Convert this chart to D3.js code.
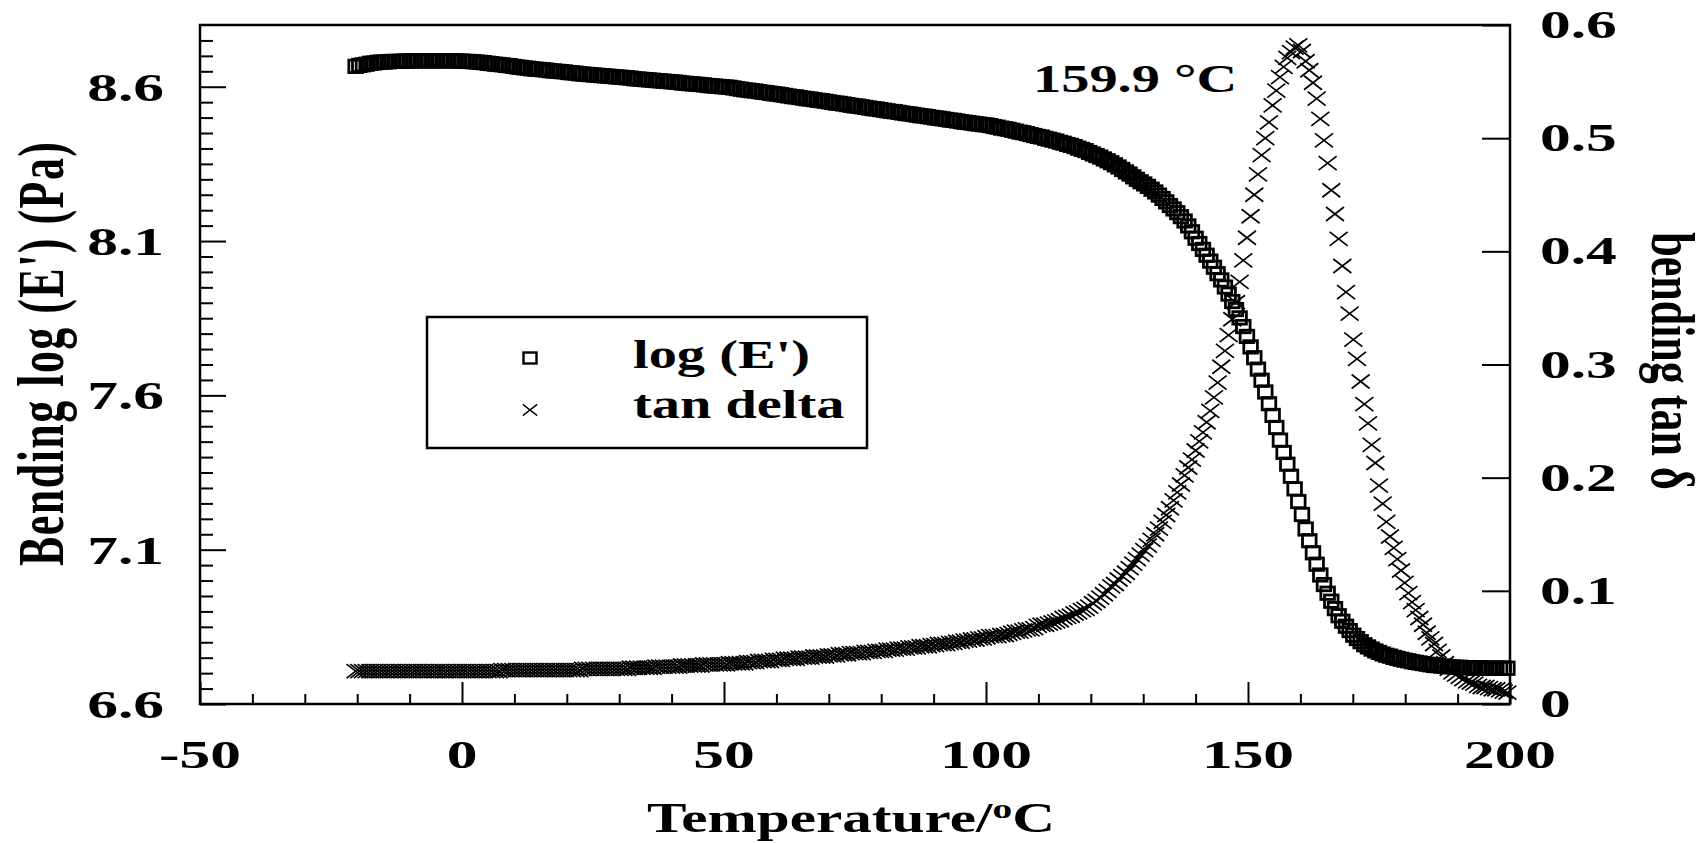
<!DOCTYPE html>
<html>
<head>
<meta charset="utf-8">
<script src="https://cdn.jsdelivr.net/npm/d3@7"></script>
<style>
  body { margin: 0; background: #fff; }
  svg text { font-family: "Liberation Serif", "Times New Roman", serif; font-weight: bold; fill: #000; }
</style>
</head>
<body>
<svg id="chart"></svg>
<script>
// temperature (°C) of each reading
const temps = [
  -20.3,-19.6,-18.9,-18.2,-17.5,-16.8,-16.1,-15.4,-14.7,-14.0,
  -13.3,-12.6,-11.9,-11.2,-10.5,-9.8,-9.1,-8.4,-7.7,-7.0,
  -6.3,-5.6,-4.9,-4.2,-3.5,-2.8,-2.1,-1.4,-0.7,0.0,
  0.7,1.4,2.1,2.8,3.5,4.2,4.9,5.6,6.3,7.0,
  7.7,8.4,9.1,9.8,10.5,11.2,11.9,12.6,13.3,14.0,
  14.7,15.4,16.1,16.8,17.5,18.2,18.9,19.6,20.3,21.0,
  21.7,22.4,23.1,23.8,24.5,25.2,25.9,26.6,27.3,28.0,
  28.7,29.4,30.1,30.8,31.5,32.2,32.9,33.6,34.3,35.0,
  35.7,36.4,37.1,37.8,38.5,39.2,39.9,40.6,41.3,42.0,
  42.7,43.4,44.1,44.8,45.5,46.2,46.9,47.6,48.3,49.0,
  49.7,50.4,51.1,51.8,52.5,53.2,53.9,54.6,55.3,56.0,
  56.7,57.4,58.1,58.8,59.5,60.2,60.9,61.6,62.3,63.0,
  63.7,64.4,65.1,65.8,66.5,67.2,67.9,68.6,69.3,70.0,
  70.7,71.4,72.1,72.8,73.5,74.2,74.9,75.6,76.3,77.0,
  77.7,78.4,79.1,79.8,80.5,81.2,81.9,82.6,83.3,84.0,
  84.7,85.4,86.1,86.8,87.5,88.2,88.9,89.6,90.3,91.0,
  91.7,92.4,93.1,93.8,94.5,95.2,95.9,96.6,97.3,98.0,
  98.7,99.4,100.1,100.8,101.5,102.2,102.9,103.6,104.3,105.0,
  105.7,106.4,107.1,107.8,108.5,109.2,109.9,110.6,111.3,112.0,
  112.7,113.4,114.1,114.8,115.5,116.2,116.9,117.6,118.3,119.0,
  119.7,120.4,121.1,121.8,122.5,123.2,123.9,124.6,125.3,126.0,
  126.7,127.4,128.1,128.8,129.5,130.2,130.9,131.6,132.3,133.0,
  133.7,134.4,135.1,135.8,136.5,137.2,137.9,138.6,139.3,140.0,
  140.7,141.4,142.1,142.8,143.5,144.2,144.9,145.6,146.3,147.0,
  147.7,148.4,149.1,149.8,150.5,151.2,151.9,152.6,153.3,154.0,
  154.7,155.4,156.1,156.8,157.5,158.2,158.9,159.6,160.3,161.0,
  161.7,162.4,163.1,163.8,164.5,165.2,165.9,166.6,167.3,168.0,
  168.7,169.4,170.1,170.8,171.5,172.2,172.9,173.6,174.3,175.0,
  175.7,176.4,177.1,177.8,178.5,179.2,179.9,180.6,181.3,182.0,
  182.7,183.4,184.1,184.8,185.5,186.2,186.9,187.6,188.3,189.0,
  189.7,190.4,191.1,191.8,192.5,193.2,193.9,194.6,195.3,196.0,
  196.7,197.4,198.1,198.8,199.5
];

// bending log(E') (Pa)
const logE = [
  8.666,8.669,8.671,8.673,8.676,8.677,8.679,8.680,8.680,8.681,
  8.682,8.682,8.682,8.683,8.683,8.684,8.684,8.684,8.684,8.684,
  8.684,8.684,8.684,8.684,8.684,8.684,8.684,8.684,8.683,8.683,
  8.682,8.682,8.681,8.680,8.679,8.678,8.676,8.675,8.673,8.672,
  8.671,8.669,8.668,8.666,8.664,8.663,8.661,8.660,8.658,8.657,
  8.656,8.655,8.654,8.652,8.651,8.650,8.649,8.648,8.646,8.645,
  8.644,8.642,8.641,8.640,8.639,8.638,8.637,8.636,8.635,8.634,
  8.633,8.632,8.631,8.630,8.629,8.628,8.626,8.625,8.624,8.623,
  8.622,8.621,8.620,8.619,8.618,8.617,8.616,8.615,8.614,8.612,
  8.611,8.610,8.609,8.608,8.607,8.606,8.604,8.603,8.602,8.601,
  8.600,8.599,8.598,8.596,8.594,8.592,8.590,8.589,8.587,8.586,
  8.584,8.582,8.581,8.579,8.577,8.576,8.574,8.572,8.570,8.568,
  8.567,8.565,8.563,8.561,8.560,8.558,8.556,8.555,8.553,8.551,
  8.549,8.547,8.546,8.544,8.542,8.540,8.538,8.537,8.535,8.533,
  8.531,8.529,8.528,8.526,8.524,8.522,8.520,8.519,8.517,8.515,
  8.513,8.512,8.510,8.508,8.506,8.505,8.503,8.501,8.499,8.498,
  8.496,8.494,8.492,8.491,8.489,8.487,8.485,8.484,8.482,8.480,
  8.479,8.477,8.476,8.474,8.471,8.469,8.466,8.464,8.462,8.459,
  8.456,8.453,8.451,8.448,8.445,8.442,8.439,8.437,8.433,8.430,
  8.427,8.424,8.420,8.417,8.413,8.410,8.406,8.401,8.397,8.393,
  8.387,8.382,8.377,8.372,8.366,8.360,8.354,8.347,8.340,8.332,
  8.324,8.317,8.308,8.300,8.292,8.285,8.277,8.268,8.259,8.249,
  8.238,8.227,8.215,8.204,8.192,8.179,8.165,8.149,8.130,8.109,
  8.092,8.073,8.054,8.035,8.015,7.994,7.974,7.951,7.928,7.904,
  7.878,7.851,7.823,7.791,7.757,7.722,7.685,7.649,7.611,7.573,
  7.535,7.496,7.455,7.415,7.377,7.338,7.297,7.256,7.214,7.167,
  7.129,7.090,7.053,7.018,6.987,6.959,6.933,6.909,6.886,6.868,
  6.852,6.838,6.823,6.812,6.802,6.792,6.785,6.778,6.772,6.767,
  6.762,6.758,6.755,6.751,6.748,6.745,6.742,6.740,6.737,6.735,
  6.733,6.731,6.729,6.727,6.725,6.724,6.723,6.722,6.721,6.720,
  6.719,6.719,6.718,6.718,6.717,6.717,6.717,6.717,6.716,6.716,
  6.716,6.716,6.716,6.716,6.716
];

// bending tan delta
const tanDelta = [
  0.029,0.029,0.029,0.029,0.029,0.029,0.029,0.029,0.029,0.029,
  0.029,0.029,0.029,0.029,0.029,0.029,0.029,0.029,0.029,0.029,
  0.029,0.029,0.029,0.029,0.029,0.029,0.029,0.029,0.029,0.029,
  0.029,0.029,0.029,0.029,0.029,0.029,0.029,0.029,0.029,0.029,
  0.030,0.030,0.030,0.030,0.030,0.030,0.030,0.030,0.030,0.030,
  0.030,0.030,0.030,0.030,0.030,0.030,0.030,0.030,0.030,0.030,
  0.030,0.030,0.031,0.031,0.031,0.031,0.031,0.031,0.031,0.031,
  0.031,0.031,0.031,0.031,0.031,0.032,0.032,0.032,0.032,0.032,
  0.032,0.032,0.033,0.033,0.033,0.033,0.033,0.033,0.033,0.034,
  0.034,0.034,0.034,0.034,0.034,0.035,0.035,0.035,0.035,0.035,
  0.035,0.035,0.036,0.036,0.036,0.036,0.036,0.037,0.037,0.037,
  0.038,0.038,0.038,0.038,0.039,0.039,0.039,0.040,0.040,0.040,
  0.040,0.041,0.041,0.041,0.041,0.042,0.042,0.042,0.042,0.043,
  0.043,0.043,0.044,0.044,0.044,0.045,0.045,0.045,0.045,0.046,
  0.046,0.046,0.047,0.047,0.047,0.048,0.048,0.048,0.049,0.049,
  0.049,0.050,0.050,0.050,0.051,0.051,0.051,0.052,0.052,0.053,
  0.053,0.053,0.054,0.054,0.055,0.055,0.056,0.056,0.057,0.057,
  0.058,0.058,0.059,0.060,0.060,0.060,0.061,0.061,0.062,0.063,
  0.064,0.064,0.065,0.066,0.066,0.067,0.069,0.070,0.070,0.071,
  0.072,0.073,0.074,0.076,0.077,0.078,0.080,0.081,0.083,0.084,
  0.086,0.089,0.091,0.094,0.097,0.100,0.104,0.106,0.110,0.113,
  0.116,0.120,0.124,0.128,0.132,0.136,0.140,0.145,0.150,0.155,
  0.161,0.167,0.173,0.180,0.187,0.194,0.202,0.209,0.216,0.224,
  0.232,0.240,0.249,0.259,0.271,0.284,0.298,0.312,0.326,0.340,
  0.355,0.373,0.392,0.412,0.431,0.450,0.468,0.485,0.500,0.514,
  0.529,0.542,0.554,0.563,0.571,0.576,0.580,0.582,0.577,0.568,
  0.560,0.549,0.535,0.517,0.498,0.478,0.454,0.433,0.411,0.387,
  0.364,0.345,0.322,0.305,0.285,0.265,0.248,0.229,0.213,0.193,
  0.177,0.161,0.148,0.138,0.128,0.118,0.107,0.098,0.090,0.083,
  0.076,0.070,0.063,0.058,0.053,0.047,0.042,0.036,0.031,0.028,
  0.026,0.024,0.022,0.020,0.019,0.018,0.016,0.015,0.015,0.014,
  0.013,0.013,0.012,0.011,0.010
];

const xTicks = [-50, 0, 50, 100, 150, 200];
const leftTicks = [6.6, 7.1, 7.6, 8.1, 8.6];
const rightTicks = [0, 0.1, 0.2, 0.3, 0.4, 0.5, 0.6];
const seriesNames = ["log (E')", "tan delta"];
const peakText = "159.9 \u00b0C";

const width = 1708, height = 843;
const SX = 1.41; // the original lettering is stretched sideways

const svg = d3.select("#chart")
  .attr("width", width)
  .attr("height", height)
  .attr("viewBox", `0 0 ${width} ${height}`);

svg.append("rect").attr("width", width).attr("height", height).attr("fill", "#fff");

let x = d3.scaleLinear().domain([-50, 200]).range([200, 1510]);
let yL = d3.scaleLinear().domain([6.6, 8.8]).range([704, 25]);
let yR = d3.scaleLinear().domain([0, 0.6]).range([704, 25]);

// ticks (all pointing inward)
let minorX = d3.range(-40, 200, 10).filter(v => v % 50 !== 0);
let minorL = d3.range(0, 44).map(i => 6.6 + i * 0.05).filter((v, i) => i % 10 !== 0);

function tickAxis(axis, transform) {
  let g = svg.append("g")
    .attr("transform", transform)
    .call(axis);
  g.select(".domain").remove();
  g.selectAll(".tick line").attr("stroke", "#000").attr("stroke-width", 2);
  g.selectAll(".tick text").remove();
  return g;
}

tickAxis(d3.axisBottom(x).tickValues(xTicks).tickSize(-22), "translate(0,704)");
tickAxis(d3.axisBottom(x).tickValues(minorX).tickSize(-10), "translate(0,704)");
tickAxis(d3.axisLeft(yL).tickValues(leftTicks).tickSize(-26), "translate(200,0)");
tickAxis(d3.axisLeft(yL).tickValues(minorL).tickSize(-13), "translate(200,0)");
tickAxis(d3.axisRight(yR).tickValues(rightTicks).tickSize(-28), "translate(1510,0)");

// frame
svg.append("path")
  .attr("d", "M200,25H1510V704H200Z")
  .attr("fill", "none")
  .attr("stroke", "#000")
  .attr("stroke-width", 2.5);

function label(px, py, str, size, anchor, sx) {
  return svg.append("text")
    .attr("transform", `translate(${px},${py}) scale(${sx || SX},1)`)
    .attr("text-anchor", anchor)
    .style("font-size", size + "px")
    .text(str);
}

leftTicks.forEach(v => label(164, yL(v) + 14, v.toFixed(1), 41, "end", 1.5));
rightTicks.forEach(v => label(1540, yR(v) + 13, v === 0 ? "0" : v.toFixed(1), 41, "start", 1.5));
xTicks.forEach(v => label(x(v), 768, String(v), 41, "middle", 1.5));

// axis titles
let xt = svg.append("text")
  .attr("transform", `translate(851,832) scale(${SX},1)`)
  .attr("text-anchor", "middle")
  .style("font-size", "42px");
xt.append("tspan").text("Temperature/");
xt.append("tspan").attr("dy", -14).style("font-size", "28px").text("o");
xt.append("tspan").attr("dy", 14).text("C");

svg.append("text")
  .attr("transform", `translate(63,354) scale(1.5,1) rotate(-90)`)
  .attr("text-anchor", "middle")
  .attr("textLength", 424)
  .style("font-size", "44px")
  .text("Bending log (E') (Pa)");

svg.append("text")
  .attr("transform", `translate(1652,361) scale(${SX},1) rotate(90)`)
  .attr("text-anchor", "middle")
  .style("font-size", "44px")
  .text("bending tan \u03b4");

// data
let pts = temps.map((t, i) => ({ t: t, e: logE[i], d: tanDelta[i] }));
const crossPath = "M-9,-7L9,7M-9,7L9,-7";

svg.append("g").selectAll("rect")
  .data(pts)
  .join("rect")
    .attr("x", d => x(d.t) - 6.8)
    .attr("y", d => yL(d.e) - 6.2)
    .attr("width", 13.6)
    .attr("height", 12.4)
    .attr("fill", "none")
    .attr("stroke", "#000")
    .attr("stroke-width", 2.8);

svg.append("g").selectAll("path")
  .data(pts)
  .join("path")
    .attr("transform", d => `translate(${x(d.t)},${yR(d.d)})`)
    .attr("d", crossPath)
    .attr("fill", "none")
    .attr("stroke", "#000")
    .attr("stroke-width", 1.7);

// peak annotation
label(1033, 92, peakText, 40, "start");

// legend
let lg = svg.append("g");
lg.append("rect")
  .attr("x", 427).attr("y", 317).attr("width", 440).attr("height", 131)
  .attr("fill", "#fff").attr("stroke", "#000").attr("stroke-width", 2.5);
lg.append("rect")
  .attr("x", 530 - 6.5).attr("y", 358 - 5.5).attr("width", 13).attr("height", 11)
  .attr("fill", "none").attr("stroke", "#000").attr("stroke-width", 2.4);
lg.append("path")
  .attr("transform", "translate(530,410) scale(0.8)")
  .attr("d", crossPath)
  .attr("fill", "none").attr("stroke", "#000").attr("stroke-width", 1.7);
label(633, 368, seriesNames[0], 40, "start");
label(633, 418, seriesNames[1], 40, "start");
</script>
</body>
</html>
